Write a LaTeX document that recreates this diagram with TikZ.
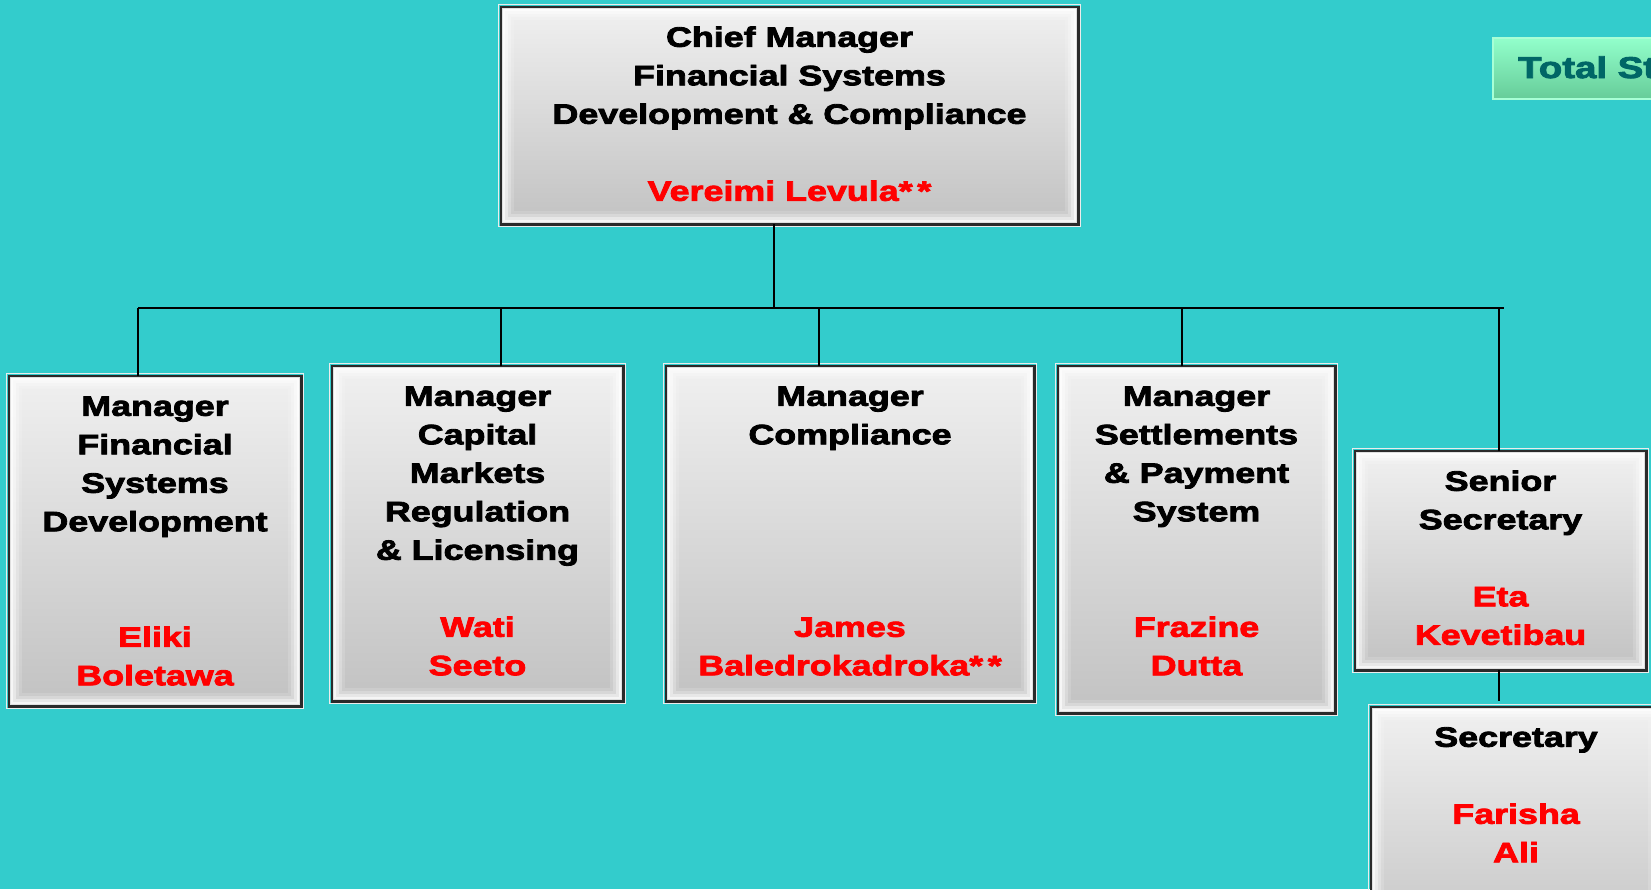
\documentclass[tikz,border=0pt]{standalone}
\usepackage{fontspec}
\usepackage{xcolor}
\newfontfamily\blk{Liberation Sans}[FakeStretch=1.28,FakeBold=3]
\definecolor{bgc}{HTML}{33CCCC}
\definecolor{namered}{HTML}{FF0000}
\definecolor{boxtop}{HTML}{F0F0F0}
\definecolor{boxbot}{HTML}{C2C2C2}
\definecolor{boxline}{HTML}{2A2A2A}
\definecolor{tottop}{HTML}{92FFCB}
\definecolor{totbot}{HTML}{66CC99}
\definecolor{totline}{HTML}{A8FFD6}
\definecolor{tottext}{HTML}{006666}
\newcommand\nm[1]{\textcolor{namered}{#1}}
\tikzset{
  box/.style={draw=boxline, line width=2.5pt, top color=boxtop, bottom color=boxbot, inner sep=0pt},
  totbox/.style={draw=totline, line width=1.5pt, top color=tottop, bottom color=totbot, inner sep=0pt},
  txt/.style={inner sep=0pt, anchor=base, font=\blk\bfseries\fontsize{28}{38.5}\selectfont},
  conn/.style={draw=black, line width=2pt},
}
\newcommand\bevel[1]{%
  \draw[white!85!gray, line width=1pt] ([xshift=-2pt,yshift=2pt]#1.north west) rectangle ([xshift=2pt,yshift=-2pt]#1.south east);
  \foreach \d/\o in {3/0.85,6/0.6,9/0.35,12/0.15}{%
    \draw[white, line width=3pt, opacity=\o] ([xshift=\d pt,yshift=-\d pt]#1.north west) rectangle ([xshift=-\d pt,yshift=\d pt]#1.south east);}%
  \draw[boxline, line width=2.5pt] (#1.north west) rectangle (#1.south east);}
\newcommand\boxtext[2]{\node[txt] (#1t) at ([yshift=-40pt]#1.north) {\begin{tabular}[t]{@{}c@{}}#2\end{tabular}};}
\begin{document}
\begin{tikzpicture}[x=1pt,y=-1pt]
\fill[bgc] (0,0) rectangle (1651,889);
\useasboundingbox (0,0) rectangle (1651,889);
\clip (0,0) rectangle (1651,889);

% boxes
\node[box, minimum width=575pt, minimum height=215pt] (top) at (789.5,115.5) {};
\node[box, minimum width=290pt, minimum height=328pt] (b1) at (155,541) {};
\node[box, minimum width=289pt, minimum height=333pt] (b2) at (477.5,533.5) {};
\node[box, minimum width=366pt, minimum height=333pt] (b3) at (850,533.5) {};
\node[box, minimum width=275pt, minimum height=345pt] (b4) at (1196.5,539.5) {};
\node[box, minimum width=289pt, minimum height=217pt] (b5) at (1500.5,560.5) {};
\node[box, minimum width=288pt, minimum height=250pt] (b6) at (1516,833) {};
\foreach \b in {top,b1,b2,b3,b4,b5,b6}{\bevel{\b}}

\node[totbox, minimum width=207pt, minimum height=61pt] (tot) at (1596.5,68.5) {};
\node[inner sep=0pt, anchor=base west, text=tottext, font=\blk\bfseries\fontsize{30}{36}\selectfont] (totl) at (1518,78) {Total St};

% connectors
\coordinate (j0) at (774,308);
\coordinate (busL) at (138,308);
\coordinate (busR) at (1504,308);
\coordinate (d1) at (138,308);
\coordinate (d2) at (501,308);
\coordinate (d3) at (819,308);
\coordinate (d4) at (1182,308);
\coordinate (d5) at (1499,308);
\coordinate (s6) at (1499,701);
\draw[conn] (top.south -| j0) -- (j0);
\draw[conn] (busL) -- (busR);
\draw[conn] (d1) -- (d1 |- b1.north);
\draw[conn] (d2) -- (d2 |- b2.north);
\draw[conn] (d3) -- (d3 |- b3.north);
\draw[conn] (d4) -- (d4 |- b4.north);
\draw[conn] (d5) -- (d5 |- b5.north);
\draw[conn] (b5.south -| s6) -- (s6);

% texts
\boxtext{top}{Chief Manager\\Financial Systems\\Development \& Compliance\\ \\ \nm{Vereimi Levula*\,*}}
\boxtext{b1}{Manager\\Financial\\Systems\\Development\\ \\ \\ \nm{Eliki}\\ \nm{Boletawa}}
\boxtext{b2}{Manager\\Capital\\Markets\\Regulation\\\& Licensing\\ \\ \nm{Wati}\\ \nm{Seeto}}
\boxtext{b3}{Manager\\Compliance\\ \\ \\ \\ \\ \nm{James}\\ \nm{Baledrokadroka*\,*}}
\boxtext{b4}{Manager\\Settlements\\\& Payment\\System\\ \\ \\ \nm{Frazine}\\ \nm{Dutta}}
\boxtext{b5}{Senior\\Secretary\\ \\ \nm{Eta}\\ \nm{Kevetibau}}
\boxtext{b6}{Secretary\\ \\ \nm{Farisha}\\ \nm{Ali}}
\end{tikzpicture}
\end{document}
